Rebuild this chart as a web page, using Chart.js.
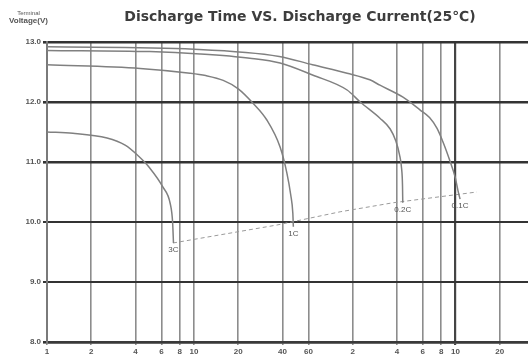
<!DOCTYPE html>
<html>
<head>
<meta charset="utf-8">
<title>Discharge Time VS. Discharge Current</title>
<script src="https://cdn.jsdelivr.net/npm/chart.js@4.4.1/dist/chart.umd.min.js"></script>
<style>
  html, body { margin: 0; padding: 0; background: #fff; }
  .wrap { position: relative; width: 528px; height: 361px; }
  .corner { position: absolute; left: 9px; top: 10px; font-family: "Liberation Sans", Arial, sans-serif;
    color: #555; line-height: 1; text-align: center; }
  .corner .a { font-size: 6px; }
  .corner .b { font-size: 8px; font-weight: bold; margin-top: 1px; }
</style>
</head>
<body>
<div class="wrap">
  <canvas id="chart"></canvas>
  <div class="corner"><div class="a">Terminal</div><div class="b">Voltage(V)</div></div>
</div>
<script>
// discharge time in minutes, voltage in volts
const timeTicks = [1, 2, 4, 6, 8, 10, 20, 40, 60, 120, 240, 360, 480, 600, 1200];
const timeTickLabels = ['1', '2', '4', '6', '8', '10', '20', '40', '60', '2', '4', '6', '8', '10', '20'];
const voltTicks = [8, 9, 10, 11, 12, 13];

const chartTitle = 'Discharge Time VS. Discharge Current(25℃)';
const curveLabels = ['3C', '1C', '0.2C', '0.1C'];

const time3C = [1, 1.5, 2.56, 3.4, 4.1, 5.0, 6.15, 6.9, 7.15, 7.25];
const volt3C = [11.5, 11.48, 11.4, 11.28, 11.12, 10.9, 10.58, 10.3, 10.0, 9.65];

const time1C = [1, 4.3, 9.4, 12, 15.8, 20, 25.2, 31.3, 38.5, 42.8, 45.5, 47, 47.4];
const volt1C = [12.62, 12.56, 12.48, 12.44, 12.36, 12.22, 11.98, 11.7, 11.25, 10.82, 10.45, 10.15, 9.92];

const time02C = [1, 5, 11, 24, 38.5, 64, 110, 135, 184, 216, 236, 250, 258, 262, 263];
const volt02C = [12.86, 12.84, 12.8, 12.73, 12.65, 12.45, 12.2, 12.0, 11.73, 11.55, 11.35, 11.12, 10.9, 10.6, 10.32];

const time01C = [1, 10, 38, 64, 110, 157, 184, 264, 344, 400, 450, 500, 550, 597, 625, 645];
const volt01C = [12.92, 12.88, 12.76, 12.62, 12.48, 12.37, 12.28, 12.08, 11.87, 11.74, 11.56, 11.3, 11.02, 10.75, 10.52, 10.38];

const timeEnd = [7.2, 36.7, 98.6, 225, 840];
const voltEnd = [9.65, 9.95, 10.17, 10.32, 10.5];

function toPoints(xs, ys) {
  return xs.map((x, i) => ({ x: x, y: ys[i] }));
}

const curveStyle = {
  borderColor: '#808080',
  borderWidth: 1.5,
  pointRadius: 0,
  cubicInterpolationMode: 'monotone',
  fill: false,
};

// title is offset to the right in the original, so draw it by hand
const titlePlugin = {
  id: 'offsetTitle',
  afterDraw(chart) {
    const ctx = chart.ctx;
    ctx.save();
    ctx.font = 'bold 14px "DejaVu Sans", sans-serif';
    ctx.fillStyle = '#3d3d3d';
    ctx.textAlign = 'center';
    ctx.textBaseline = 'middle';
    ctx.fillText(chartTitle, 300, 17);
    ctx.restore();
  }
};

const endLabelPlugin = {
  id: 'endLabels',
  afterDatasetsDraw(chart) {
    const ctx = chart.ctx;
    ctx.save();
    ctx.font = '8px "Liberation Sans", Arial, sans-serif';
    ctx.fillStyle = '#555';
    ctx.textAlign = 'center';
    ctx.textBaseline = 'top';
    chart.data.datasets.forEach((ds, i) => {
      if (!ds.endLabel) return;
      const pts = chart.getDatasetMeta(i).data;
      const last = pts[pts.length - 1];
      ctx.fillText(ds.endLabel, last.x, last.y + 3);
    });
    ctx.restore();
  }
};

new Chart(document.getElementById('chart'), {
  type: 'line',
  data: {
    datasets: [
      { ...curveStyle, label: curveLabels[0], endLabel: curveLabels[0], data: toPoints(time3C, volt3C) },
      { ...curveStyle, label: curveLabels[1], endLabel: curveLabels[1], data: toPoints(time1C, volt1C) },
      { ...curveStyle, label: curveLabels[2], endLabel: curveLabels[2], data: toPoints(time02C, volt02C) },
      { ...curveStyle, label: curveLabels[3], endLabel: curveLabels[3], data: toPoints(time01C, volt01C) },
      {
        label: 'end voltage',
        data: toPoints(timeEnd, voltEnd),
        borderColor: '#9a9a9a',
        borderWidth: 1,
        borderDash: [4, 3],
        pointRadius: 0,
        tension: 0,
      },
    ],
  },
  options: {
    responsive: true,
    maintainAspectRatio: false,
    animation: false,
    layout: { padding: { top: 42, left: 0, right: 0, bottom: 0 } },
    plugins: {
      legend: { display: false },
      tooltip: { enabled: false },
      title: { display: false },
    },
    scales: {
      x: {
        type: 'logarithmic',
        min: 1,
        max: 1870,
        afterBuildTicks: (scale) => { scale.ticks = timeTicks.map(v => ({ value: v })); },
        afterFit: (scale) => { scale.height = 19; },
        ticks: {
          autoSkip: false,
          maxRotation: 0,
          padding: 2,
          color: '#555',
          font: { family: '"Liberation Sans", Arial, sans-serif', size: 8, weight: 'bold' },
          callback: (value, index) => timeTickLabels[index],
        },
        grid: {
          color: (c) => (c.tick && c.tick.value === 600 ? '#444' : '#8c8c8c'),
          lineWidth: (c) => (c.tick && c.tick.value === 600 ? 2.2 : 1.6),
          tickLength: 3,
        },
        border: { color: '#3a3a3a', width: 2.5 },
      },
      y: {
        min: 8,
        max: 13,
        afterBuildTicks: (scale) => { scale.ticks = voltTicks.map(v => ({ value: v })); },
        afterFit: (scale) => { scale.width = 47; },
        ticks: {
          padding: 2,
          color: '#555',
          font: { family: '"Liberation Sans", Arial, sans-serif', size: 8, weight: 'bold' },
          callback: (value) => value.toFixed(1),
        },
        grid: {
          color: '#333',
          lineWidth: (c) => (c.tick && (c.tick.value === 9 || c.tick.value === 10) ? 2 : 2.6),
          tickLength: 4,
        },
        border: { color: '#7a7a7a', width: 2 },
      },
    },
  },
  plugins: [endLabelPlugin, titlePlugin],
});
</script>
</body>
</html>
